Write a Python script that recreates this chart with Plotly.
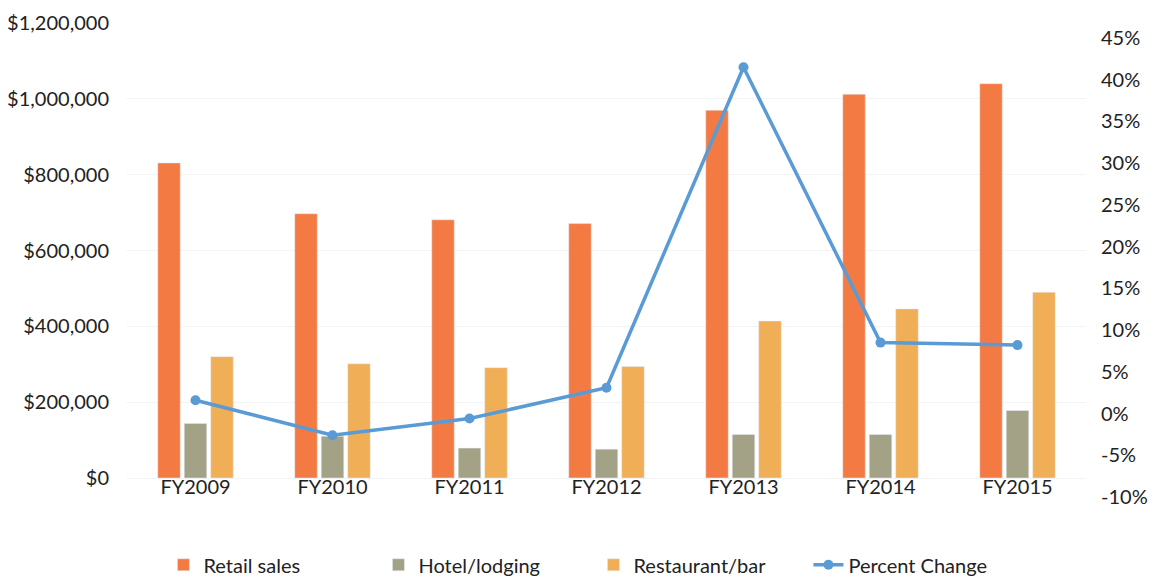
import plotly.graph_objects as go

# DATA
years = ["FY2009", "FY2010", "FY2011", "FY2012", "FY2013", "FY2014", "FY2015"]
retail = [831000, 697000, 681000, 671000, 970000, 1012000, 1040000]
hotel = [144000, 110000, 79000, 76000, 115000, 115000, 178000]
restaurant = [320000, 301000, 291000, 294000, 414000, 446000, 490000]
pct_change = [1.6, -2.6, -0.6, 3.1, 41.5, 8.5, 8.2]

left_ticks = [0, 200000, 400000, 600000, 800000, 1000000, 1200000]
right_ticks = [-10, -5, 0, 5, 10, 15, 20, 25, 30, 35, 40, 45]
right_text = [f"{v}%" for v in right_ticks]

font = "Lato, 'Open Sans', sans-serif"

fig = go.Figure()
fig.add_trace(go.Bar(x=years, y=retail, name="Retail sales", marker_color="#F47A44"))
fig.add_trace(go.Bar(x=years, y=hotel, name="Hotel/lodging", marker_color="#A3A287"))
fig.add_trace(go.Bar(x=years, y=restaurant, name="Restaurant/bar", marker_color="#F0AE57"))
fig.add_trace(go.Scatter(
    x=years, y=pct_change, name="Percent Change", yaxis="y2",
    mode="lines+markers",
    line=dict(color="#5B9BD5", width=3.5),
    marker=dict(size=10, color="#5B9BD5"),
))

# page body has an 8px margin, so the figure is a bit smaller than the window
fig.update_layout(
    width=1149, height=577,
    margin=dict(l=119, r=71, t=15, b=88, autoexpand=False),
    paper_bgcolor="white", plot_bgcolor="white",
    font=dict(family=font, size=20, color="#222222"),
    barmode="group", bargap=0.42, bargroupgap=0.15,
    showlegend=True,
    legend=dict(
        orientation="h", x=0.038, xanchor="left",
        yref="container", y=0.035, yanchor="middle",
        entrywidth=170, font=dict(size=20),
    ),
    xaxis=dict(
        showline=False, showgrid=False, ticks="", automargin=False,
        anchor="free", position=0.05,
        tickfont=dict(size=20),
    ),
    yaxis=dict(
        range=[-50100, 1200000], tickmode="array", tickvals=left_ticks,
        tickformat="$,.0f", automargin=False,
        showgrid=True, gridcolor="#F3F3F3", gridwidth=1, zeroline=False,
        showline=False, ticks="outside", ticklen=13, tickcolor="rgba(0,0,0,0)",
        tickfont=dict(size=20),
    ),
    yaxis2=dict(
        overlaying="y", side="right", range=[-10, 46.8], automargin=False,
        tickmode="array", tickvals=right_ticks, ticktext=right_text,
        showgrid=False, zeroline=False, showline=False,
        ticks="outside", ticklen=10, tickcolor="rgba(0,0,0,0)",
        tickfont=dict(size=20),
    ),
)

fig.write_html("out.html")
